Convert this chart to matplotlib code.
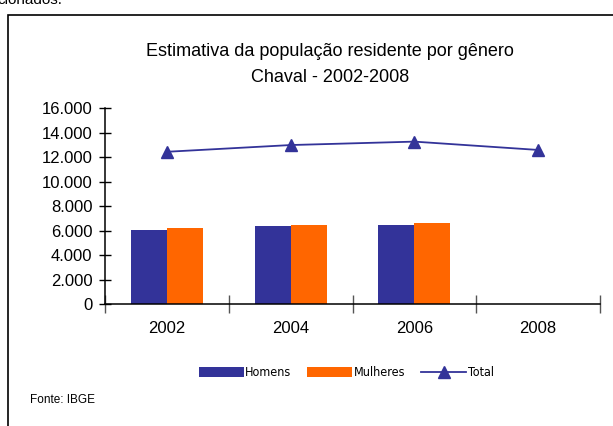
import numpy as np
import matplotlib.pyplot as plt
from matplotlib.patches import Rectangle
from matplotlib.ticker import FuncFormatter

# data
anos = ['2002', '2004', '2006', '2008']
homens = [6090, 6420, 6500, np.nan]
mulheres = [6250, 6500, 6660, np.nan]
total = [12450, 13000, 13280, 12600]

AZUL = '#333399'
LARANJA = '#FF6600'

plt.rcParams['font.family'] = ['Liberation Sans', 'DejaVu Sans']

fig = plt.figure(figsize=(6.13, 4.26), dpi=100)

# outer frame of the embedded chart
fig.patches.append(Rectangle((8 / 613, -0.01), 1.0, 1 - 15 / 426 + 0.01,
                             transform=fig.transFigure, fill=False,
                             edgecolor='black', linewidth=1.2))
# fragment of document text above the chart
fig.text(-0.005, 1.0, 'cionados.', fontsize=11, ha='left', va='center')

ax = fig.add_axes([105 / 613, 1 - 304.3 / 426, 495 / 613, 196 / 426])

x = np.arange(len(anos))
w = 0.29
b1 = ax.bar(x - w / 2, homens, w, color=AZUL, label='Homens')
b2 = ax.bar(x + w / 2, mulheres, w, color=LARANJA, label='Mulheres')
l1, = ax.plot(x, total, color=AZUL, marker='^', markersize=8, linewidth=1.3,
              label='Total')

ax.set_xlim(-0.5, len(anos) - 0.5)
ax.set_ylim(0, 16000)
ax.set_yticks(np.arange(0, 16001, 2000))
ax.yaxis.set_major_formatter(FuncFormatter(lambda v, p: f'{int(v):,}'.replace(',', '.')))
ax.set_xticks(x)
ax.set_xticklabels(anos)
ax.set_xticks(np.arange(-0.5, len(anos), 1), minor=True)
ax.tick_params(axis='x', which='major', length=0, pad=12, labelsize=12)
ax.tick_params(axis='x', which='minor', direction='inout', length=13, width=1, color='#555555')
ax.tick_params(axis='y', direction='inout', length=8, width=1, labelsize=12, pad=5)

for s in ['top', 'right']:
    ax.spines[s].set_visible(False)
for s in ['left', 'bottom']:
    ax.spines[s].set_linewidth(1.1)

fig.text(330 / 613, 1 - 52 / 426, 'Estimativa da população residente por gênero',
         ha='center', va='center', fontsize=13)
fig.text(330 / 613, 1 - 78 / 426, 'Chaval - 2002-2008',
         ha='center', va='center', fontsize=13)

fig.legend(handles=[b1, b2, l1], loc='center', bbox_to_anchor=(346 / 613, 1 - 373 / 426),
           ncol=3, frameon=False, handlelength=3.6, handleheight=0.9,
           handletextpad=0.1, columnspacing=1.3,
           prop={'family': ['DejaVu Sans'], 'size': 9, 'stretch': 'condensed'})

fig.text(30 / 613, 1 - 400 / 426, 'Fonte: IBGE', fontsize=8.5, ha='left', va='center')

fig.savefig('out.png', dpi=100)
